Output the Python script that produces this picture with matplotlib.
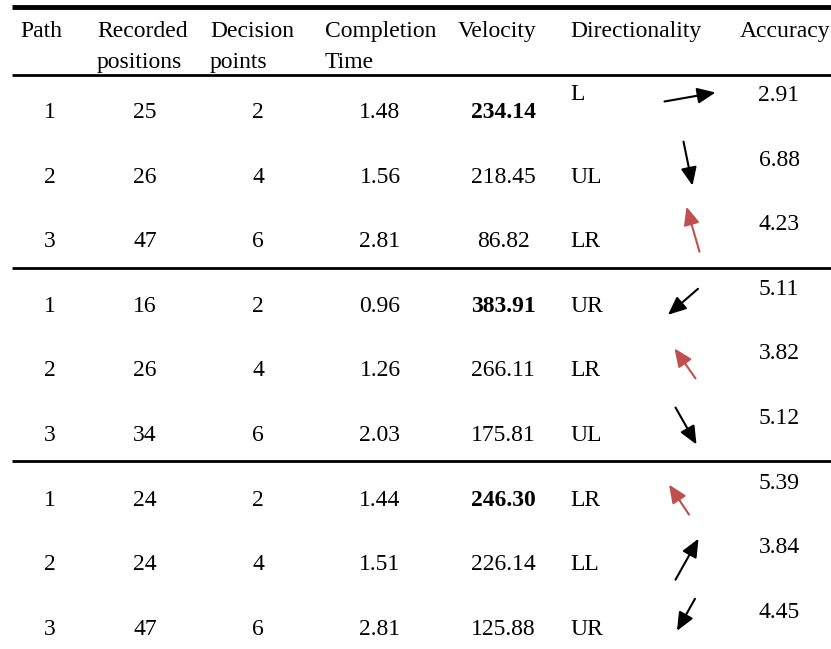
import matplotlib
matplotlib.use('Agg')
import matplotlib.pyplot as plt

plt.rcParams['font.family'] = ['Liberation Serif', 'DejaVu Serif']

# table data
headers = [['Path'], ['Recorded', 'positions'], ['Decision', 'points'],
           ['Completion', 'Time'], ['Velocity'], ['Directionality'], ['Accuracy']]
path = [1, 2, 3, 1, 2, 3, 1, 2, 3]
recorded = [25, 26, 47, 16, 26, 34, 24, 24, 47]
decision = [2, 4, 6, 2, 4, 6, 2, 4, 6]
completion = ['1.48', '1.56', '2.81', '0.96', '1.26', '2.03', '1.44', '1.51', '2.81']
velocity = ['234.14', '218.45', '86.82', '383.91', '266.11', '175.81', '246.30', '226.14', '125.88']
velocity_bold = [True, False, False, True, False, False, True, False, False]
direction = ['L', 'UL', 'LR', 'UR', 'LR', 'UL', 'LR', 'LL', 'UR']
accuracy = ['2.91', '6.88', '4.23', '5.11', '3.82', '5.12', '5.39', '3.84', '4.45']
# arrow vectors (tail -> head), screen pixels, y pointing down
arrow_dx = [51, 9, -13, -30, -21, 21, -20, 23, -18]
arrow_dy = [-9, 44, -45, 26, -30, 37, -30, -41, 32]

# layout (pixel coordinates of an 831x649 canvas)
W, H = 831, 649
fs = 17
head_x = [20, 97, 210, 325, 458, 570, 740]
col_c = [50, 145, 258, 380, 503]
dir_x = 570
acc_x = 779
row0, row_step = 118, 64.6
dir_off = [-18, 0, 0, 0, 0, 0, 0, 0, 0]
acc_off = -17
arrow_cx = [690, 688, 693, 683, 685, 686, 679, 687, 686]
arrow_off = [-21, -19, -18, -10, -13, -15, -6, -11, -20]
red = '#c0504d'

fig = plt.figure(figsize=(W / 100, H / 100), dpi=100)
ax = fig.add_axes([0, 0, 1, 1])
ax.set_xlim(0, W)
ax.set_ylim(H, 0)
ax.axis('off')

# rules
ax.plot([12, W], [6.5, 6.5], color='black', lw=3.5, solid_capstyle='butt')
ax.plot([12, W], [75, 75], color='black', lw=2, solid_capstyle='butt')
for y in [268, 461]:
    ax.plot([12, W], [y, y], color='black', lw=2, solid_capstyle='butt')

# header
for x, lines in zip(head_x, headers):
    for k, t in enumerate(lines):
        ax.text(x, 37 + 31 * k, t, fontsize=fs, ha='left', va='baseline')

# body
for i in range(len(path)):
    yb = row0 + row_step * i
    cells = [str(path[i]), str(recorded[i]), str(decision[i]), completion[i]]
    for x, t in zip(col_c, cells):
        ax.text(x, yb, t, fontsize=fs, ha='center', va='baseline')
    ax.text(col_c[4], yb, velocity[i], fontsize=fs, ha='center', va='baseline',
            fontweight='bold' if velocity_bold[i] else 'normal')
    ax.text(dir_x, yb + dir_off[i], direction[i], fontsize=fs, ha='left', va='baseline')
    ax.text(acc_x, yb + acc_off, accuracy[i], fontsize=fs, ha='center', va='baseline')

    cx, cy = arrow_cx[i], yb + arrow_off[i]
    dx, dy = arrow_dx[i], arrow_dy[i]
    col = red if direction[i] == 'LR' else 'black'
    ax.annotate('', xy=(cx + dx / 2, cy + dy / 2),
                xytext=(cx - dx / 2, cy - dy / 2),
                arrowprops=dict(arrowstyle='-|>,head_length=0.55,head_width=0.24',
                                mutation_scale=20, lw=1.5, color=col,
                                shrinkA=0, shrinkB=0))

fig.savefig('out.png', dpi=100)
